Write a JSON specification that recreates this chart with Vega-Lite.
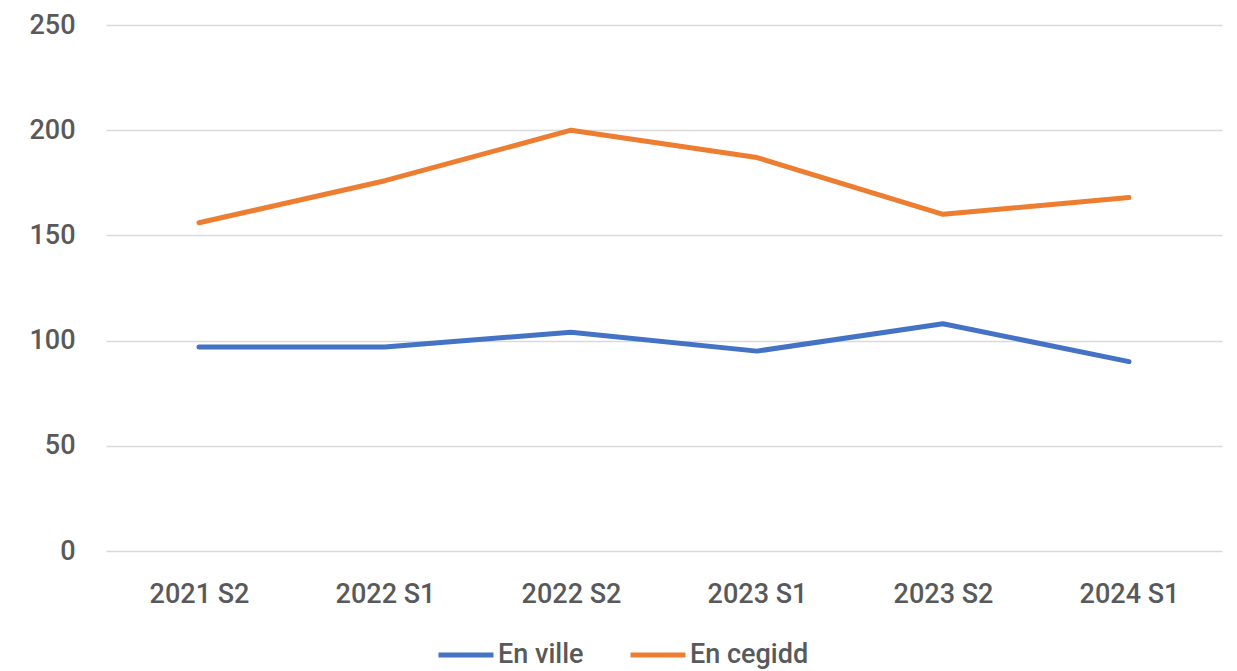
{
  "$schema": "https://vega.github.io/schema/vega-lite/v6.json",
  "width": 1116,
  "height": 526,
  "autosize": {"type": "none"},
  "padding": {"left": 106, "top": 25, "right": 15, "bottom": 120},
  "background": "white",
  "config": {
    "view": {"stroke": null},
    "font": "Roboto"
  },
  "data": {
    "values": [
      {"periode": "2021 S2", "serie": "En ville", "valeur": 97},
      {"periode": "2022 S1", "serie": "En ville", "valeur": 97},
      {"periode": "2022 S2", "serie": "En ville", "valeur": 104},
      {"periode": "2023 S1", "serie": "En ville", "valeur": 95},
      {"periode": "2023 S2", "serie": "En ville", "valeur": 108},
      {"periode": "2024 S1", "serie": "En ville", "valeur": 90},
      {"periode": "2021 S2", "serie": "En cegidd", "valeur": 156},
      {"periode": "2022 S1", "serie": "En cegidd", "valeur": 176},
      {"periode": "2022 S2", "serie": "En cegidd", "valeur": 200},
      {"periode": "2023 S1", "serie": "En cegidd", "valeur": 187},
      {"periode": "2023 S2", "serie": "En cegidd", "valeur": 160},
      {"periode": "2024 S1", "serie": "En cegidd", "valeur": 168}
    ]
  },
  "mark": {"type": "line", "strokeWidth": 5, "strokeCap": "round", "strokeJoin": "round"},
  "encoding": {
    "x": {
      "field": "periode",
      "type": "ordinal",
      "sort": null,
      "scale": {"type": "point", "padding": 0.5},
      "axis": {
        "title": null,
        "domain": false,
        "ticks": false,
        "labelAngle": 0,
        "labelFont": "Roboto",
        "labelFontSize": 27,
        "labelFontWeight": 500,
        "labelColor": "#595959",
        "labelPadding": 30
      }
    },
    "y": {
      "field": "valeur",
      "type": "quantitative",
      "scale": {"domain": [0, 250], "nice": false},
      "axis": {
        "title": null,
        "values": [0, 50, 100, 150, 200, 250],
        "domain": false,
        "ticks": false,
        "labelFont": "Roboto",
        "labelFontSize": 27,
        "labelFontWeight": 500,
        "labelColor": "#595959",
        "labelPadding": 31,
        "gridColor": "#d9d9d9",
        "gridWidth": 1.5
      }
    },
    "color": {
      "field": "serie",
      "type": "nominal",
      "scale": {"domain": ["En ville", "En cegidd"], "range": ["#4472C4", "#ED7D31"]},
      "legend": {
        "title": null,
        "orient": "none",
        "legendX": 330,
        "legendY": 600,
        "direction": "horizontal",
        "symbolType": "stroke",
        "symbolStrokeWidth": 5,
        "symbolSize": 3025,
        "labelFont": "Roboto",
        "labelFontSize": 27,
        "labelFontWeight": 500,
        "labelColor": "#595959",
        "labelOffset": 2,
        "columnPadding": 36
      }
    }
  }
}
